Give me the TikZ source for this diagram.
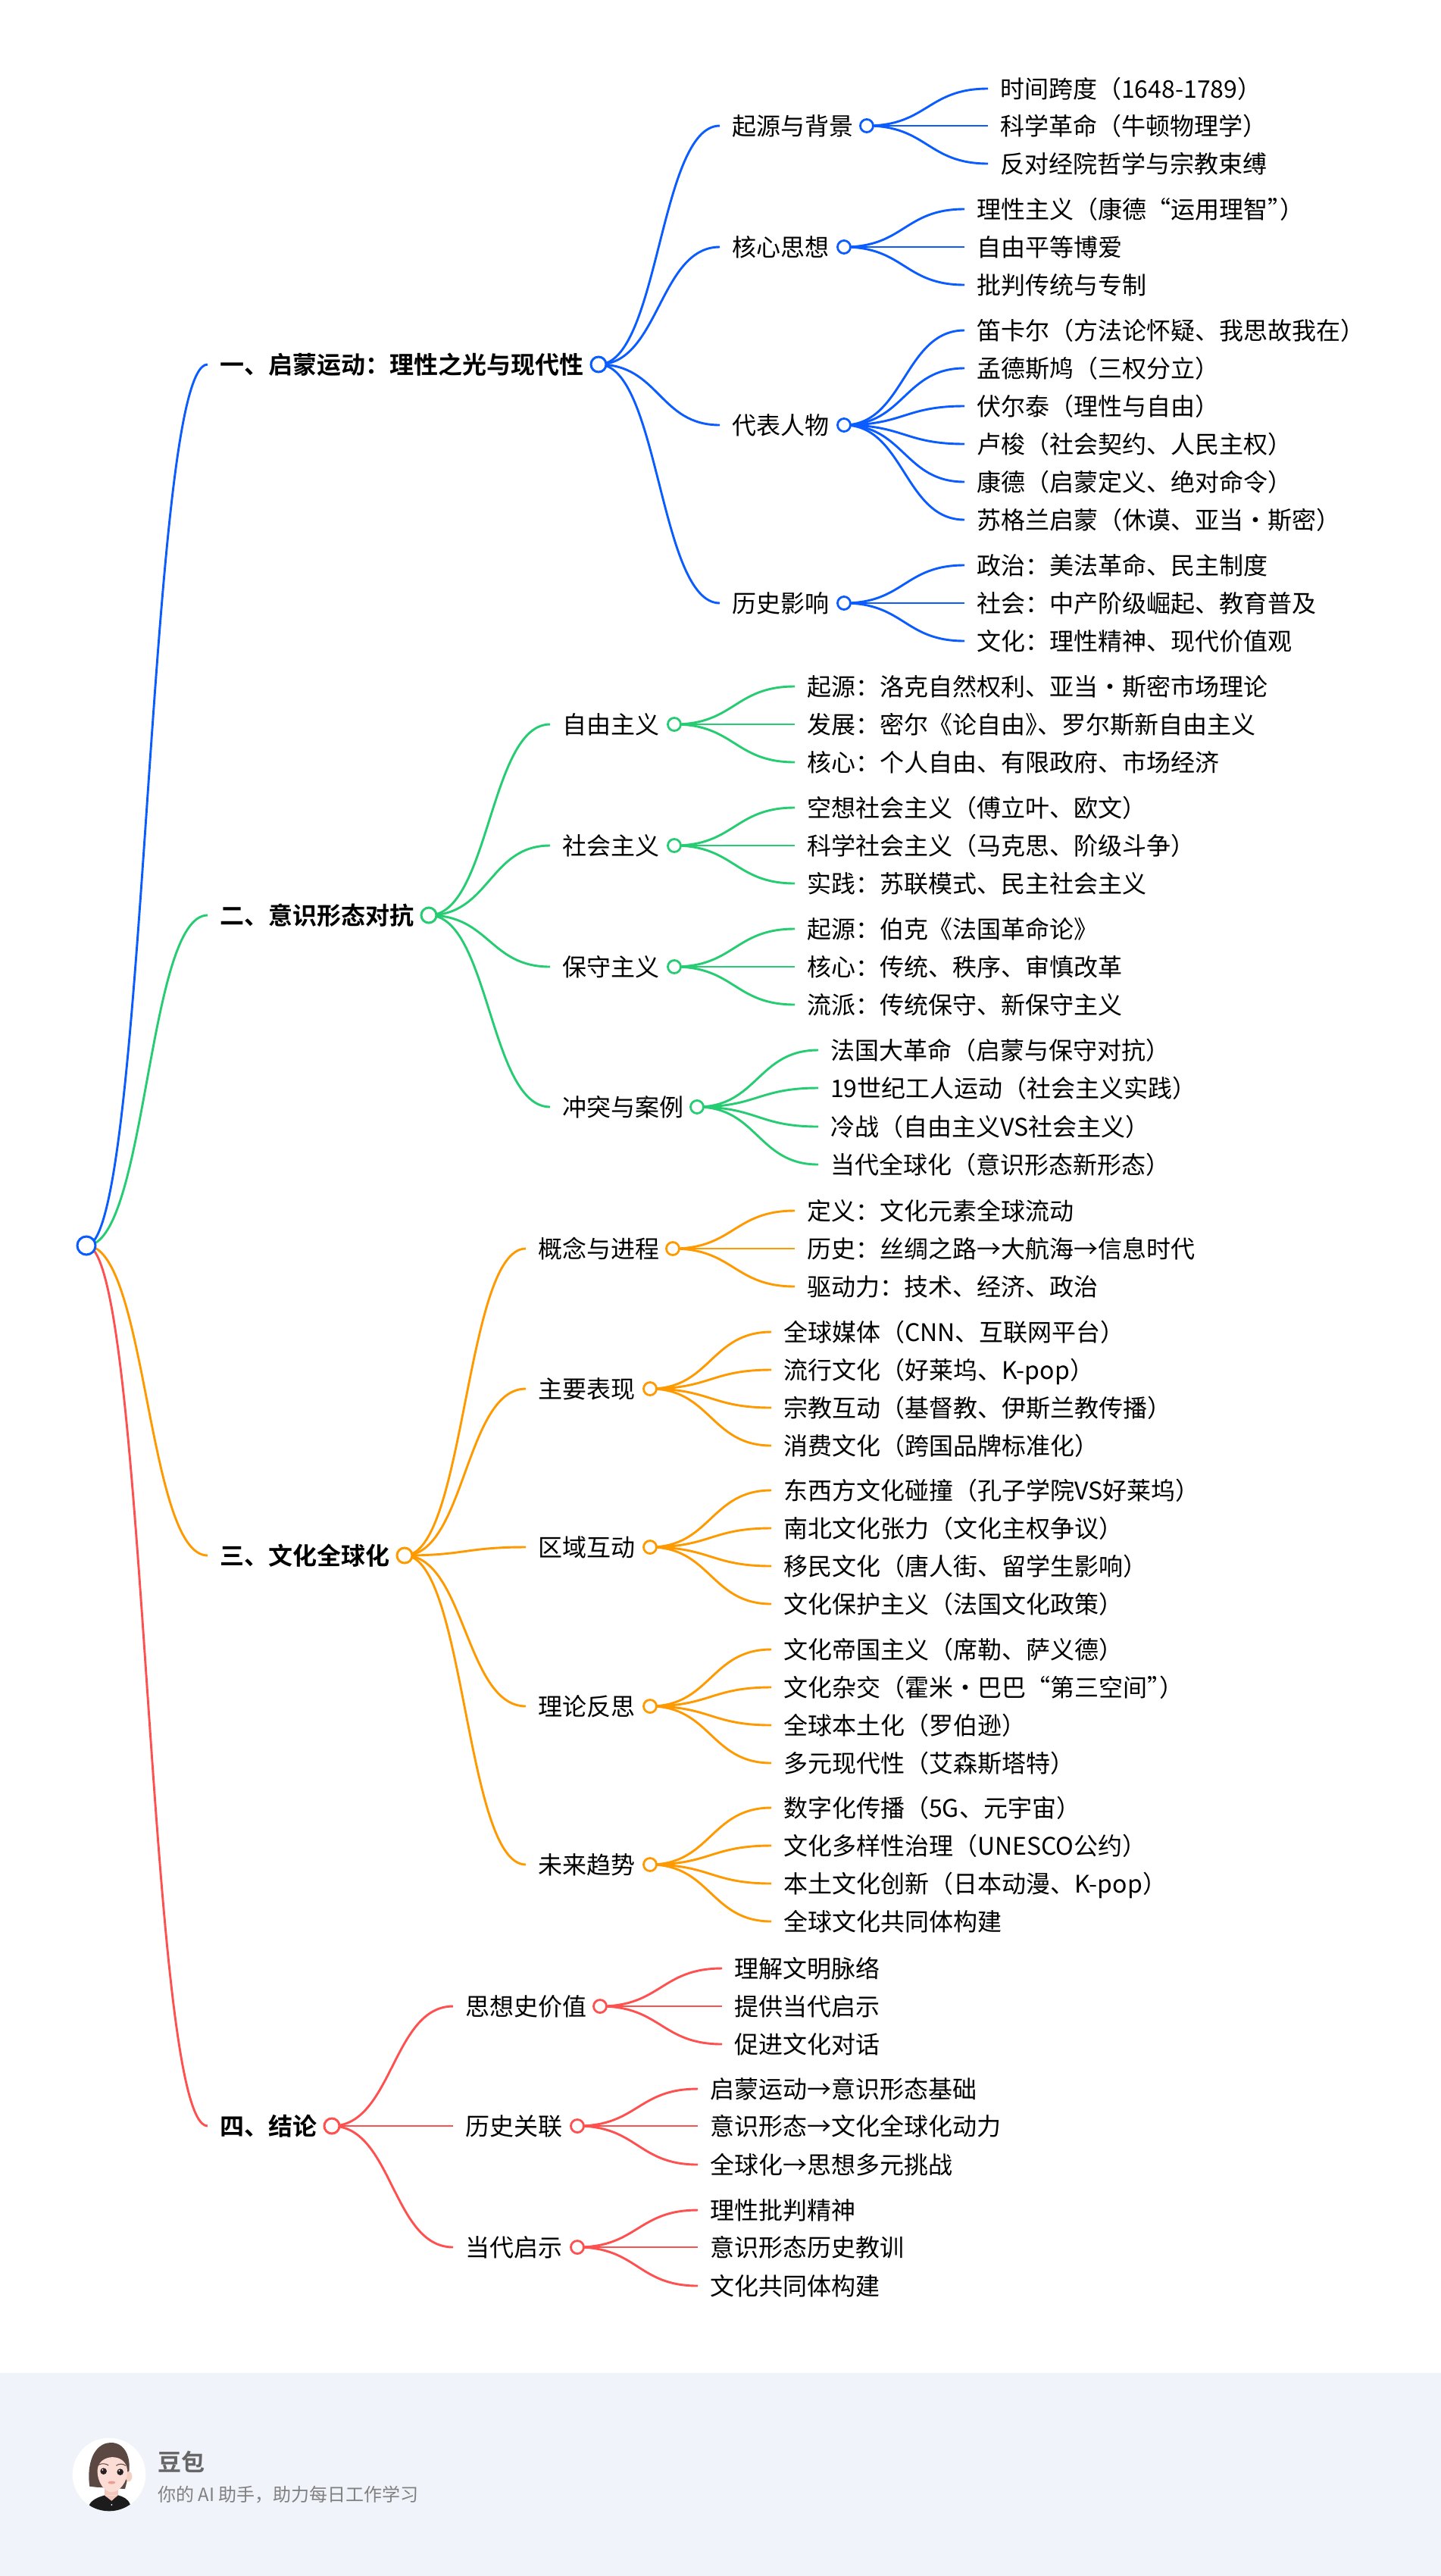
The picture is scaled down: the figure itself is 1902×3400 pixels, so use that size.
\documentclass[tikz,border=0pt]{standalone}
\usepackage{fontspec}
\setmainfont{Noto Sans CJK SC}[BoldFont={Noto Sans CJK SC Bold}]
\usetikzlibrary{calc}
\pgfdeclarelayer{bg}
\pgfsetlayers{bg,main}
\definecolor{gblue}{HTML}{0A5CFF}
\definecolor{ggreen}{HTML}{25CC72}
\definecolor{gorange}{HTML}{FF9900}
\definecolor{gred}{HTML}{FF5050}
\definecolor{band}{HTML}{F0F3FA}
\definecolor{skinb}{HTML}{F3C7BA}
\definecolor{skinc}{HTML}{F6CFC3}
\definecolor{skina}{HTML}{FBDDD5}
\definecolor{hair}{HTML}{5C4843}
\definecolor{eyec}{HTML}{2A2222}
\definecolor{brow}{HTML}{5A4640}
\definecolor{lip}{HTML}{EE9E90}
\definecolor{topc}{HTML}{1C1C1C}
\tikzset{
  base/.style={inner ysep=0pt,inner xsep=16pt,anchor=west,text height=28pt,text depth=3pt,font=\fontsize{32}{32}\selectfont,text=black},
  l1text/.style={base,font=\fontsize{32}{32}\selectfont\bfseries},
  l2text/.style={base},
  leaftext/.style={base},
  dotone/.style={circle,draw=#1,fill=white,line width=3pt,minimum size=20pt,inner sep=0pt},
  dottwo/.style={circle,draw=#1,fill=white,line width=2.8pt,minimum size=17pt,inner sep=0pt},
  dotroot/.style={circle,draw=#1,fill=white,line width=3pt,minimum size=24pt,inner sep=0pt},
  link/.style={draw=#1,line width=2.9pt},
}
\newcommand{\Lnk}[3]{\begin{pgfonlayer}{bg}\path[link=#1] let \p1=(#2.center),\p2=(#3.west),\n1={0.5*(\x1+\x2)} in (#2.center) .. controls (\n1,\y1) and (\n1,\y2) .. (#3.west);\end{pgfonlayer}}
% colour, parent, name, west x, y, text
\newcommand{\Leaf}[6]{\node[leaftext] (#3) at (#4,#5) {#6};\Lnk{#1}{#2}{#3}}
% colour, parent, name, west x, y, dot x, text
\newcommand{\Two}[7]{\node[l2text] (#3) at (#4,#5) {#7};\node[dottwo=#1] (#3d) at (#6,#5) {};\Lnk{#1}{#2}{#3}}
\newcommand{\One}[7]{\node[l1text] (#3) at (#4,#5) {#7};\node[dotone=#1] (#3d) at (#6,#5) {};\Lnk{#1}{#2}{#3}}
\begin{document}
\begin{tikzpicture}[x=1pt,y=-1pt]
\useasboundingbox (0,0) rectangle (1902,3400);
\begin{pgfonlayer}{bg}
\fill[white] (0,0) rectangle (1902,3400);
\fill[band] (0,3132) rectangle (1902,3400);
\end{pgfonlayer}
\node[dotroot=gblue] (root) at (114,1644) {};
% Group 1
\One{gblue}{root}{a}{274}{481}{790}{一、启蒙运动：理性之光与现代性}
\Two{gblue}{ad}{a1}{950}{166}{1144}{起源与背景}
\Leaf{gblue}{a1d}{a11}{1304}{117}{时间跨度（1648-1789）}
\Leaf{gblue}{a1d}{a12}{1304}{166}{科学革命（牛顿物理学）}
\Leaf{gblue}{a1d}{a13}{1304}{216}{反对经院哲学与宗教束缚}
\Two{gblue}{ad}{a2}{950}{326}{1114}{核心思想}
\Leaf{gblue}{a2d}{a21}{1273}{276}{理性主义（康德“运用理智”\kern-16pt）}
\Leaf{gblue}{a2d}{a22}{1273}{326}{自由平等博爱}
\Leaf{gblue}{a2d}{a23}{1273}{376}{批判传统与专制}
\Two{gblue}{ad}{a3}{950}{561}{1114}{代表人物}
\Leaf{gblue}{a3d}{a31}{1273}{436}{笛卡尔（方法论怀疑、我思故我在）}
\Leaf{gblue}{a3d}{a32}{1273}{486}{孟德斯鸠（三权分立）}
\Leaf{gblue}{a3d}{a33}{1273}{536}{伏尔泰（理性与自由）}
\Leaf{gblue}{a3d}{a34}{1273}{586}{卢梭（社会契约、人民主权）}
\Leaf{gblue}{a3d}{a35}{1273}{636}{康德（启蒙定义、绝对命令）}
\Leaf{gblue}{a3d}{a36}{1273}{686}{苏格兰启蒙（休谟、亚当·斯密）}
\Two{gblue}{ad}{a4}{950}{796}{1114}{历史影响}
\Leaf{gblue}{a4d}{a41}{1273}{746}{政治：美法革命、民主制度}
\Leaf{gblue}{a4d}{a42}{1273}{796}{社会：中产阶级崛起、教育普及}
\Leaf{gblue}{a4d}{a43}{1273}{846}{文化：理性精神、现代价值观}
% Group 2
\One{ggreen}{root}{b}{274}{1208}{566}{二、意识形态对抗}
\Two{ggreen}{bd}{b1}{726}{956}{890}{自由主义}
\Leaf{ggreen}{b1d}{b11}{1049}{906}{起源：洛克自然权利、亚当·斯密市场理论}
\Leaf{ggreen}{b1d}{b12}{1049}{956}{发展：密尔《论自由》\kern-16pt、罗尔斯新自由主义}
\Leaf{ggreen}{b1d}{b13}{1049}{1006}{核心：个人自由、有限政府、市场经济}
\Two{ggreen}{bd}{b2}{726}{1116}{890}{社会主义}
\Leaf{ggreen}{b2d}{b21}{1049}{1066}{空想社会主义（傅立叶、欧文）}
\Leaf{ggreen}{b2d}{b22}{1049}{1116}{科学社会主义（马克思、阶级斗争）}
\Leaf{ggreen}{b2d}{b23}{1049}{1166}{实践：苏联模式、民主社会主义}
\Two{ggreen}{bd}{b3}{726}{1276}{890}{保守主义}
\Leaf{ggreen}{b3d}{b31}{1049}{1226}{起源：伯克《法国革命论》}
\Leaf{ggreen}{b3d}{b32}{1049}{1276}{核心：传统、秩序、审慎改革}
\Leaf{ggreen}{b3d}{b33}{1049}{1326}{流派：传统保守、新保守主义}
\Two{ggreen}{bd}{b4}{726}{1461}{920}{冲突与案例}
\Leaf{ggreen}{b4d}{b41}{1080}{1386}{法国大革命（启蒙与保守对抗）}
\Leaf{ggreen}{b4d}{b42}{1080}{1436}{19世纪工人运动（社会主义实践）}
\Leaf{ggreen}{b4d}{b43}{1080}{1487}{冷战（自由主义VS社会主义）}
\Leaf{ggreen}{b4d}{b44}{1080}{1537}{当代全球化（意识形态新形态）}
% Group 3
\One{gorange}{root}{c}{274}{2053}{534}{三、文化全球化}
\Two{gorange}{cd}{c1}{694}{1648}{888}{概念与进程}
\Leaf{gorange}{c1d}{c11}{1049}{1598}{定义：文化元素全球流动}
\Leaf{gorange}{c1d}{c12}{1049}{1648}{历史：丝绸之路→大航海→信息时代}
\Leaf{gorange}{c1d}{c13}{1049}{1698}{驱动力：技术、经济、政治}
\Two{gorange}{cd}{c2}{694}{1833}{858}{主要表现}
\Leaf{gorange}{c2d}{c21}{1018}{1758}{全球媒体（CNN、互联网平台）}
\Leaf{gorange}{c2d}{c22}{1018}{1808}{流行文化（好莱坞、K-pop）}
\Leaf{gorange}{c2d}{c23}{1018}{1858}{宗教互动（基督教、伊斯兰教传播）}
\Leaf{gorange}{c2d}{c24}{1018}{1908}{消费文化（跨国品牌标准化）}
\Two{gorange}{cd}{c3}{694}{2042}{858}{区域互动}
\Leaf{gorange}{c3d}{c31}{1018}{1967}{东西方文化碰撞（孔子学院VS好莱坞）}
\Leaf{gorange}{c3d}{c32}{1018}{2017}{南北文化张力（文化主权争议）}
\Leaf{gorange}{c3d}{c33}{1018}{2067}{移民文化（唐人街、留学生影响）}
\Leaf{gorange}{c3d}{c34}{1018}{2117}{文化保护主义（法国文化政策）}
\Two{gorange}{cd}{c4}{694}{2252}{858}{理论反思}
\Leaf{gorange}{c4d}{c41}{1018}{2177}{文化帝国主义（席勒、萨义德）}
\Leaf{gorange}{c4d}{c42}{1018}{2227}{文化杂交（霍米·巴巴“第三空间”\kern-16pt）}
\Leaf{gorange}{c4d}{c43}{1018}{2277}{全球本土化（罗伯逊）}
\Leaf{gorange}{c4d}{c44}{1018}{2327}{多元现代性（艾森斯塔特）}
\Two{gorange}{cd}{c5}{694}{2461}{858}{未来趋势}
\Leaf{gorange}{c5d}{c51}{1018}{2386}{数字化传播（5G、元宇宙）}
\Leaf{gorange}{c5d}{c52}{1018}{2436}{文化多样性治理（UNESCO公约）}
\Leaf{gorange}{c5d}{c53}{1018}{2486}{本土文化创新（日本动漫、K-pop）}
\Leaf{gorange}{c5d}{c54}{1018}{2536}{全球文化共同体构建}
% Group 4
\One{gred}{root}{e}{274}{2806}{438}{四、结论}
\Two{gred}{ed}{e1}{598}{2648}{792}{思想史价值}
\Leaf{gred}{e1d}{e11}{953}{2598}{理解文明脉络}
\Leaf{gred}{e1d}{e12}{953}{2648}{提供当代启示}
\Leaf{gred}{e1d}{e13}{953}{2698}{促进文化对话}
\Two{gred}{ed}{e2}{598}{2806}{762}{历史关联}
\Leaf{gred}{e2d}{e21}{921}{2757}{启蒙运动→意识形态基础}
\Leaf{gred}{e2d}{e22}{921}{2806}{意识形态→文化全球化动力}
\Leaf{gred}{e2d}{e23}{921}{2857}{全球化→思想多元挑战}
\Two{gred}{ed}{e3}{598}{2966}{762}{当代启示}
\Leaf{gred}{e3d}{e31}{921}{2917}{理性批判精神}
\Leaf{gred}{e3d}{e32}{921}{2966}{意识形态历史教训}
\Leaf{gred}{e3d}{e33}{921}{3017}{文化共同体构建}
% Footer
\begin{scope}[shift={(90,3210)},x=0.3333pt,y=-0.3333pt]
\fill[white] (162,168) circle[radius=145pt*0.3333];
\begin{scope}
\clip (162,168) circle[radius=145pt*0.3333];
\fill[topc] (85,285) .. controls (100,262) and (130,255) .. (145,250) -- (172,272) -- (197,250) .. controls (215,255) and (235,262) .. (245,285) -- (250,320) -- (80,320) -- cycle;
\fill[skinb] (143,205) rectangle (197,250);
\fill[skinb] (143,250) -- (172,272) -- (197,250) -- cycle;
\end{scope}
\fill[hair] (85,215) .. controls (72,130) and (100,42) .. (170,42) .. controls (225,42) and (250,100) .. (240,165) -- (225,225) -- (110,218) -- cycle;
\fill[skinc] (240,176) ellipse[x radius=13pt*0.3333,y radius=20pt*0.3333];
\fill[skina] (116,150) .. controls (120,85) and (228,80) .. (234,150) .. controls (237,200) and (200,238) .. (172,238) .. controls (145,238) and (114,200) .. (116,150) -- cycle;
\fill[hair] (115,135) .. controls (125,90) and (155,75) .. (172,58) .. controls (190,75) and (225,90) .. (236,140) .. controls (225,100) and (200,84) .. (175,72) .. controls (150,84) and (125,105) .. (115,135) -- cycle;
\fill[eyec] (140,155) circle[radius=4.3pt];
\fill[eyec] (206,158) circle[radius=4.3pt];
\fill[white] (136,150) circle[radius=1pt];
\fill[white] (202,153) circle[radius=1pt];
\draw[brow,line width=1pt] (120,130) .. controls (135,122) and (150,125) .. (160,132);
\draw[brow,line width=1pt] (190,133) .. controls (200,125) and (215,124) .. (228,133);
\fill[lip] (172,200) ellipse[x radius=5pt,y radius=2pt];
\fill[white] (172,288) circle[radius=1pt];
\end{scope}
\node[anchor=west,inner sep=0pt,text=black!60,font=\fontsize{31}{31}\selectfont\bfseries,text height=28pt,text depth=3pt] (brand) at (208,3249) {豆包};
\node[anchor=west,inner sep=0pt,text=black!50,font=\fontsize{24}{24}\selectfont,text height=21pt,text depth=2pt] (slogan) at (208,3292) {你的 AI 助手，助力每日工作学习};
\end{tikzpicture}
\end{document}
